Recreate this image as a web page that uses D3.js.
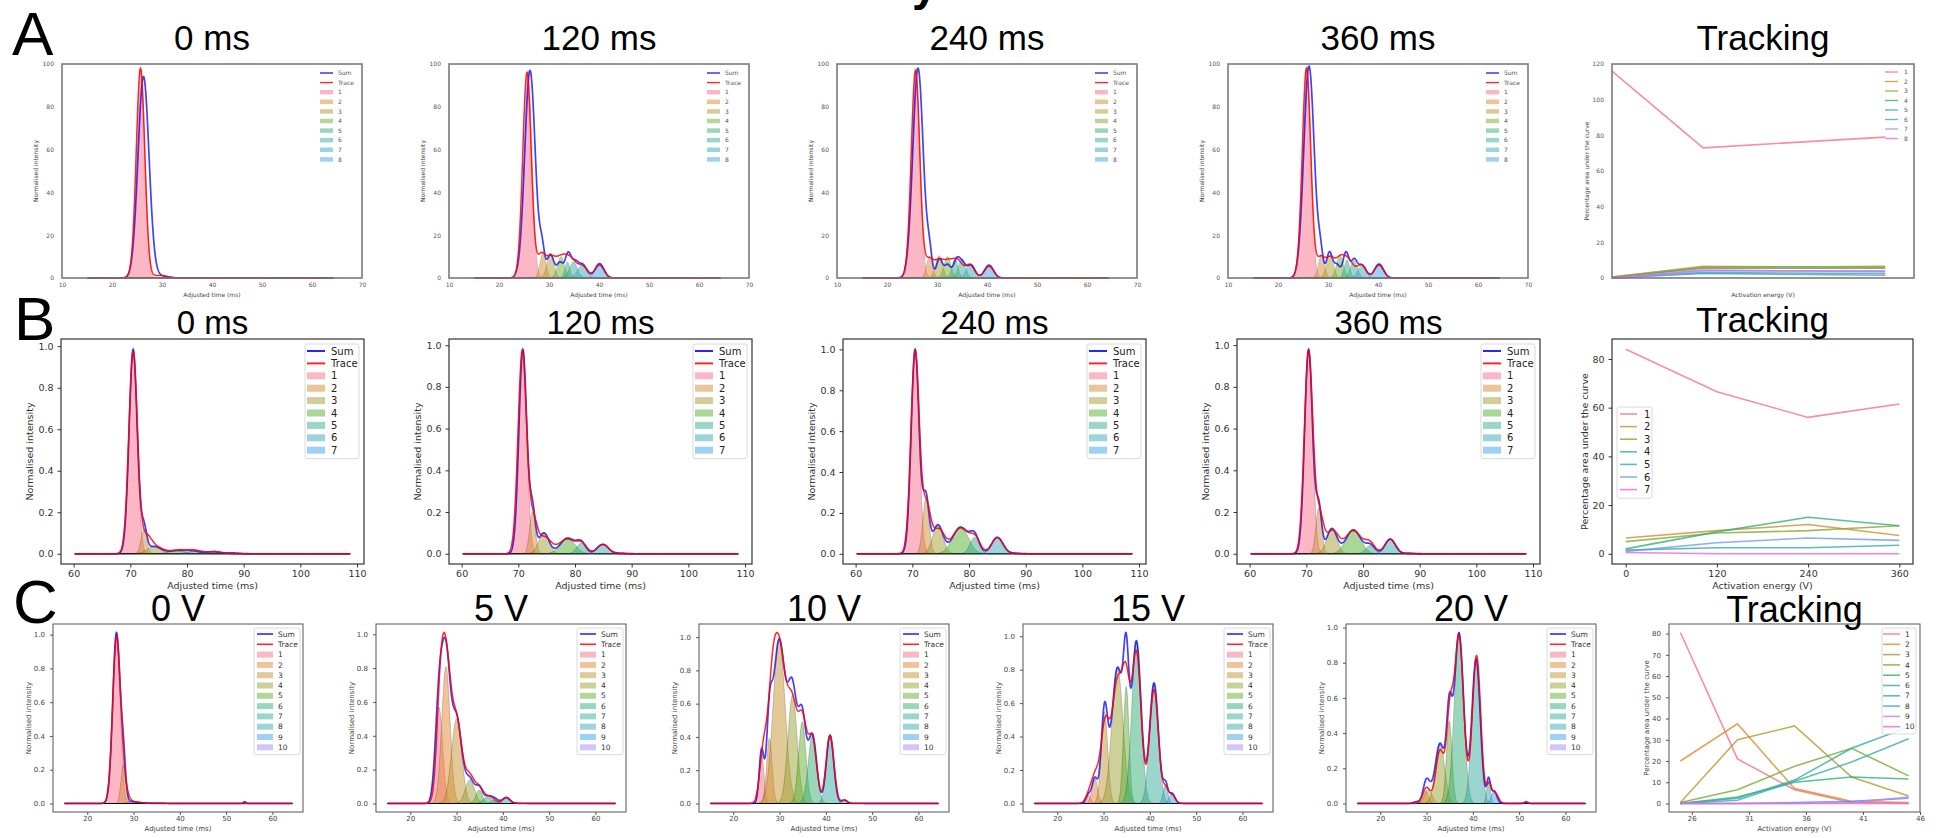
<!DOCTYPE html>
<html><head><meta charset="utf-8">
<script src="https://cdn.jsdelivr.net/npm/d3@7"></script>
<style>body{margin:0;background:#fff}svg{display:block}</style>
</head><body>
<svg id="c" width="1939" height="838"></svg>
<script>
// ---------- DATA (Gaussian components: [centre ms, height, width ms]) ----------
const rowATitles = ["0 ms", "120 ms", "240 ms", "360 ms"];
const rowBTitles = ["0 ms", "120 ms", "240 ms", "360 ms"];
const rowCTitles = ["0 V", "5 V", "10 V", "15 V", "20 V"];

const a0Comps = [[25.8,97,0.8],[28.5,0.3,0.6],[30,0.4,0.8],[32,0.2,0.8],[34,0.1,0.8],[36,0.1,0.8],[38,0.1,0.8],[40,0.1,0.8]];
const a0Sum   = [[26.3,94,1.1],[29.5,1,1.5]];
const a0Trace = [[25.7,98,0.85],[29.5,1.2,1.5]];
const a120Comps = [[25.8,97,0.8],[28.8,11.7,0.6],[30.3,11,0.7],[32.4,10,0.7],[33.7,7.5,0.5],[34.9,7.5,0.8],[36.6,6,0.9],[40.1,6.7,0.9]];
const a120Sum   = [[26.2,97,1.05],[28.6,12,0.5],[30.3,11,0.7],[32.2,7,0.6],[33.8,11,0.6],[35.2,7,0.7],[36.8,6,0.8],[40.1,6.7,0.9]];
const a120Trace = [[25.6,96,0.85],[28.4,10,0.8],[30.3,9,1.0],[32.3,7,1.0],[34.2,9,1.2],[36.8,5,1.0],[40.1,6,0.9]];
const a240Comps = [[25.8,98,0.8],[28.5,10,0.6],[30.4,10.5,0.7],[32.1,10,0.7],[33.6,9,0.6],[35,9,0.7],[36.7,7,0.8],[40.4,6,0.9]];
const a240Sum   = [[26.2,98,1.05],[28.5,10,0.5],[30.5,9,0.6],[32.1,6,0.6],[34,9,0.7],[35.2,5,0.6],[36.8,6,0.8],[40.4,6,0.9]];
const a240Trace = [[25.7,97,0.85],[28.4,8,0.8],[30.4,8,1.0],[32.3,6,0.9],[34.1,8,1.0],[36.6,6,0.9],[40.4,5.5,0.9]];
const a360Comps = [[25.8,99,0.8],[28.7,11,0.6],[30.4,11,0.7],[32.4,10.5,0.7],[33.8,8.5,0.55],[35.2,8,0.7],[36.8,6,0.8],[40.2,6.5,0.9]];
const a360Sum   = [[26.2,99,1.05],[28.5,10,0.5],[30.3,12,0.6],[31.8,6,0.6],[33.6,12,0.6],[35.2,8,0.6],[36.8,6,0.8],[40.2,6.5,0.9]];
const a360Trace = [[25.7,98,0.85],[28.5,9,0.8],[30.4,9,0.9],[32.4,8,0.9],[34.1,8,1.0],[36.7,6,0.9],[40.2,6,0.9]];

const b0Comps = [[70.5,0.985,0.72],[72.4,0.117,0.5],[74.2,0.035,1.2],[78.3,0.015,1.5],[81.1,0.012,1.2],[84.6,0.01,1.2],[88,0.004,1.2]];
const b0Trace = [[70.5,0.97,0.76],[72.8,0.08,0.9],[74.6,0.03,1.2],[78.5,0.018,1.6],[81.5,0.015,1.3],[85,0.01,1.2]];
const b120Comps = [[70.8,0.98,0.7],[72.5,0.2,0.5],[74.5,0.1,0.9],[78.7,0.075,1.3],[81.1,0.05,0.8],[84.9,0.045,1.0],[88,0.003,1]];
const b120Trace = [[70.7,0.97,0.75],[72.6,0.15,0.7],[74.6,0.08,1.2],[78.6,0.07,1.4],[81.2,0.045,0.9],[84.9,0.045,1.0]];
const b240Comps = [[70.5,1.0,0.7],[72.4,0.27,0.55],[74.5,0.14,0.9],[78.5,0.13,1.4],[81,0.08,0.8],[85,0.08,1.0],[88,0.003,1]];
const b240Trace = [[70.5,0.99,0.75],[72.5,0.22,0.7],[74.6,0.12,1.1],[78.5,0.125,1.4],[81.1,0.07,0.9],[85,0.08,1.0]];
const b360Comps = [[70.4,0.98,0.7],[72.2,0.22,0.5],[74.5,0.12,0.9],[78.3,0.115,1.3],[81.3,0.04,0.8],[84.8,0.07,0.9],[88,0.003,1]];
const b360Trace = [[70.4,0.97,0.75],[72.3,0.18,0.7],[74.6,0.11,1.1],[78.3,0.11,1.4],[81.2,0.05,0.9],[84.8,0.07,0.95]];

const c0Comps = [[26.3,1.01,0.8],[27.8,0.23,0.5],[29.5,0.01,0.8],[31,0.004,1],[33,0.002,1],[35,0.002,1],[37,0.001,1],[40,0.001,1],[43,0.001,1],[54,0.01,0.3]];
const c0Trace = [[26.35,0.98,0.85],[28,0.08,0.8],[30,0.01,1.5]];
const c5Comps = [[26.2,0.57,0.8],[27.7,0.81,0.9],[30,0.5,1.1],[32.9,0.14,1.0],[34.9,0.08,0.7],[36.8,0.04,1.0],[38.3,0.02,0.8],[40.7,0.035,0.8],[43,0.001,1],[45,0.001,1]];
const c5Trace = [[26.5,0.55,0.8],[27.8,0.75,0.95],[30,0.48,1.1],[32.8,0.16,1.1],[35,0.08,0.9],[37.2,0.04,1.0],[40.8,0.035,0.8]];
const c10Comps = [[26.1,0.31,0.5],[27.8,0.39,0.6],[29.9,0.98,1.3],[32.8,0.65,1.0],[34.9,0.49,0.8],[37.1,0.41,0.9],[40.9,0.41,0.8],[44,0.02,0.6],[46,0.001,1],[48,0.001,1]];
const c10Trace = [[26.5,0.3,0.8],[28.3,0.45,0.9],[30,0.9,1.3],[32.8,0.55,1.1],[35,0.45,0.9],[37.1,0.38,0.9],[40.9,0.41,0.85],[44,0.02,0.6]];
const c15Comps = [[26.7,0.05,0.5],[28.1,0.15,0.6],[30.2,0.55,0.7],[33,0.81,1.2],[34.9,0.7,0.6],[37.1,0.97,1.0],[40.9,0.72,0.95],[43.4,0.11,0.5],[44.8,0.06,0.6],[47,0.001,1]];
const c15Trace = [[27,0.06,0.8],[28.3,0.15,0.8],[30.3,0.45,0.9],[33,0.72,1.2],[34.9,0.55,0.8],[37.1,0.9,1.0],[40.9,0.68,0.95],[43.4,0.08,0.6],[44.8,0.05,0.7]];
const c20Comps = [[28,0.01,0.8],[29.8,0.07,0.6],[30.4,0.08,0.8],[32.9,0.34,1.0],[34.9,0.47,0.6],[37,0.97,1.0],[40.7,0.82,0.9],[43.4,0.13,0.4],[44.6,0.07,0.6],[51.5,0.005,0.4]];
const c20Trace = [[30,0.09,0.8],[32.9,0.3,0.9],[35,0.45,0.7],[37,0.95,1.0],[40.8,0.84,0.9],[43.5,0.1,0.5],[44.8,0.06,0.7],[51.5,0.01,0.4]];

const trackATimes = [0, 120, 360];
const trackAValues = [[116,73,79],[0.5,6.5,6],[0.5,6,6.5],[0.3,5.5,5.5],[0.2,3,2.5],[0,2.5,1.5],[0,4,4],[0,4.5,3.5]];
const trackBTimes = [0, 120, 240, 360];
const trackBValues = [[84,66.5,56,61.5],[6.5,9.5,12,7.5],[5,8.5,9.5,11.5],[2,9,15,11.5],[1.5,2.5,2.5,3.5],[1,4.5,6.5,5.5],[0.5,0,0,0]];
const trackCVolts = [25, 30, 35, 40, 45];
const trackCValues = [[80.5,21,6.5,0.5,0],[20,37.5,7,1,0.5],[0.5,30,36.5,12.5,3.5],[0.5,6.5,17.5,26,13],[0,3,10,12.5,11.5],[0,2.5,11,26,36],[0,1.5,10.5,19.5,30.5],[0,0,0.5,1,2.5],[0,0,0,0.5,3],[0,0,0,0,0]];

const aTicksX = [10,20,30,40,50,60,70], aTicksY = [0,20,40,60,80,100];
const bTicksX = [60,70,80,90,100,110], bTicksY = [0,0.2,0.4,0.6,0.8,1.0];
const cTicksX = [20,30,40,50,60], cTicksY = [0,0.2,0.4,0.6,0.8,1.0];
const trackATicksY = [0,20,40,60,80,100,120];
const trackBTicksX = [0,120,240,360], trackBTicksY = [0,20,40,60,80];
const trackCTicksX = [26,31,36,41,46], trackCTicksY = [0,10,20,30,40,50,60,70,80];

const husl10 = ['#f77189','#dc8932','#ae9d31','#77ab31','#33b07a','#35ad9c','#37abb5','#3ba3ec','#bb83f4','#f564d4'];
const husl8  = ['#f77189','#ce9032','#97a431','#32b166','#36ada4','#39a7d0','#a48cf4','#f561dd'];
const palB   = ['#f77189','#d58c32','#a4a031','#50b131','#34ae91','#38aab7','#3ba3ec'];
const palC   = ['#f77189','#e58632','#c39532','#9ca231','#62ad31','#33b07a','#35ad9c','#37abb5','#3ba3ec','#a48cf4'];
const palTrackB = ['#f77189','#c8922f','#8fa62f','#33b07a','#36ada4','#6e9bf4','#f461dd'];

// ---------- DRAWING ----------
const svg = d3.select('#c');
const SANS = 'DejaVu Sans, sans-serif';
const ARIAL = 'Liberation Sans, Arial, sans-serif';
const mix = (list, x) => d3.sum(list, ([m,h,s]) => h*Math.exp(-((x-m)*(x-m))/(2*s*s)));

const styles = {
  A:{tick:6, tickColor:'#555', frame:'#7a7a7a', frameW:1.6, tickLen:0, padX:5, padY:8, label:6, labelColor:'#444', yLabOff:24, xLabY:19, leg:6, legColor:'#555'},
  B:{tick:9.5, tickColor:'#333', frame:'#333', frameW:1.2, tickLen:3.5, padX:2.5, padY:4, label:9.5, labelColor:'#333', yLabOff:28, xLabY:25, leg:10, legColor:'#222'},
  C:{tick:7, tickColor:'#444', frame:'#555', frameW:1, tickLen:3, padX:1.5, padY:5, label:7, labelColor:'#444', yLabOff:22, xLabY:18.5, leg:7.5, legColor:'#333'}
};

function axes(g, x, y, box, st, xt, yt, xf, yf, showX) {
  const [l, r, t, b] = box;
  if (showX) {
    const xa = g.append('g').attr('transform', `translate(0,${b})`)
      .call(d3.axisBottom(x).tickValues(xt).tickFormat(xf).tickSize(st.tickLen).tickPadding(st.padX));
    xa.select('.domain').remove();
    xa.selectAll('line').attr('stroke', st.frame);
    xa.selectAll('text').attr('font-family', SANS).attr('font-size', st.tick).attr('fill', st.tickColor);
  }
  const ya = g.append('g').attr('transform', `translate(${l},0)`)
    .call(d3.axisLeft(y).tickValues(yt).tickFormat(yf).tickSize(st.tickLen).tickPadding(st.padY));
  ya.select('.domain').remove();
  ya.selectAll('line').attr('stroke', st.frame);
  ya.selectAll('text').attr('font-family', SANS).attr('font-size', st.tick).attr('fill', st.tickColor);
  g.append('rect').attr('x', l).attr('y', t).attr('width', r-l).attr('height', b-t)
    .attr('fill', 'none').attr('stroke', st.frame).attr('stroke-width', st.frameW);
}

function labels(g, box, st, xl, yl, yOff) {
  const [l, r, t, b] = box;
  g.append('text').attr('x', (l+r)/2).attr('y', b + st.xLabY).attr('text-anchor','middle')
    .attr('font-family', SANS).attr('font-size', st.label).attr('fill', st.labelColor).text(xl);
  g.append('text').attr('transform', `translate(${l - (yOff||st.yLabOff)},${(t+b)/2}) rotate(-90)`)
    .attr('text-anchor','middle').attr('font-family', SANS).attr('font-size', st.label).attr('fill', st.labelColor).text(yl);
}

function title(g, box, txt, base, size) {
  g.append('text').attr('x', (box[0]+box[1])/2).attr('y', base).attr('text-anchor','middle')
    .attr('font-family', ARIAL).attr('font-size', size).attr('fill', '#000').text(txt);
}

function legend(g, items, spec, st) {
  if (spec.frame) {
    g.append('rect').attr('x', spec.fx).attr('y', spec.fy).attr('width', spec.fw)
      .attr('height', items.length*spec.step + 3).attr('rx', 2)
      .attr('fill', '#fff').attr('fill-opacity', 0.85).attr('stroke', '#d0d0d0').attr('stroke-width', 0.8);
  }
  items.forEach((it, i) => {
    const yy = spec.y0 + i*spec.step;
    if (it.type === 'line') {
      g.append('line').attr('x1', spec.lx).attr('x2', spec.lx+spec.lw).attr('y1', yy).attr('y2', yy)
        .attr('stroke', it.c).attr('stroke-width', spec.lineW||1.6).attr('stroke-opacity', it.op||0.85);
    } else {
      g.append('rect').attr('x', spec.lx).attr('y', yy - spec.ph/2).attr('width', spec.lw).attr('height', spec.ph)
        .attr('fill', it.c).attr('fill-opacity', 0.5);
    }
    g.append('text').attr('x', spec.tx).attr('y', yy).attr('dy', '0.35em')
      .attr('font-family', SANS).attr('font-size', st.leg).attr('fill', st.legColor).text(it.t);
  });
}

function drawFit(p) {
  const st = styles[p.row];
  const g = svg.append('g');
  const [l, r, t, b] = p.box;
  const x = d3.scaleLinear().domain(p.xDomain).range([l, r]);
  const xs = d3.range(p.xRange[0], p.xRange[1] + 1e-9, 0.05);
  const sumList = p.sum || p.comps;
  const sumVals = xs.map(v => mix(sumList, v));
  const trVals = xs.map(v => mix(p.trace, v));
  let yDom = p.yDomain;
  if (!yDom) { const mx = d3.max(sumVals.concat(trVals)); yDom = [-0.05*mx, 1.05*mx]; }
  const y = d3.scaleLinear().domain(yDom).range([b, t]);
  p.comps.forEach((c, i) => {
    const area = d3.area().x(d => x(d)).y0(y(0)).y1(d => y(mix([c], d)));
    g.append('path').datum(xs).attr('d', area).attr('fill', p.palette[i]).attr('fill-opacity', 0.5)
      .attr('stroke', '#000').attr('stroke-opacity', p.row === 'A' ? 0.2 : 0.3).attr('stroke-width', 0.6);
  });
  const line = d3.line().x((d, i) => x(xs[i])).y(d => y(d));
  g.append('path').datum(sumVals).attr('d', line).attr('fill', 'none').attr('stroke', '#0000ff').attr('stroke-opacity', 0.75).attr('stroke-width', 1.7);
  g.append('path').datum(trVals).attr('d', line).attr('fill', 'none').attr('stroke', '#ff0000').attr('stroke-opacity', 0.85).attr('stroke-width', 1.5);
  axes(g, x, y, p.box, st, p.xTicks, p.yTicks, d3.format('d'), p.yFmt, true);
  labels(g, p.box, st, 'Adjusted time (ms)', 'Normalised intensity');
  title(g, p.box, p.title, p.titleY, p.titleSize);
  const items = [{t:'Sum', type:'line', c:'#0000ff'}, {t:'Trace', type:'line', c:'#ff0000'}]
    .concat(p.comps.map((c, i) => ({t: String(i+1), type: 'patch', c: p.palette[i]})));
  let spec;
  if (p.row === 'A') spec = {frame:false, lx:r-42, lw:13, tx:r-24, y0:t+9, step:9.6, ph:4.5, lineW:1.4};
  else if (p.row === 'B') { const fx = r-5-54, fy = t+5; spec = {frame:true, fx, fy, fw:54, lx:fx+2, lw:18, tx:fx+26, y0:fy+7, step:12.4, ph:7, lineW:2}; }
  else { const fx = r-3-46, fy = t+4; spec = {frame:true, fx, fy, fw:46, lx:fx+3, lw:16, tx:fx+24, y0:fy+6, step:10.3, ph:6, lineW:1.6}; }
  legend(g, items, spec, st);
}

function drawTrack(p) {
  const st = styles[p.row];
  const g = svg.append('g');
  const [l, r, t, b] = p.box;
  const x = d3.scaleLinear().domain(p.xDomain).range([l, r]);
  const y = d3.scaleLinear().domain(p.yDomain).range([b, t]);
  const line = d3.line().x((d, i) => x(p.xs[i])).y(d => y(d));
  p.values.forEach((s, i) => {
    g.append('path').datum(s).attr('d', line).attr('fill', 'none').attr('stroke', p.palette[i])
      .attr('stroke-opacity', 0.8).attr('stroke-width', 1.6);
  });
  axes(g, x, y, p.box, st, p.xTicks || [], p.yTicks, d3.format('d'), d3.format('d'), !!p.xTicks);
  labels(g, p.box, st, 'Activation energy (V)', 'Percentage area under the curve', p.yLabOff);
  title(g, p.box, 'Tracking', p.titleY, p.titleSize);
  const items = p.values.map((s, i) => ({t: String(i+1), type: 'line', c: p.palette[i], op: 0.8}));
  legend(g, items, p.legend, st);
}

// Row A
const rowAComps = [a0Comps, a120Comps, a240Comps, a360Comps];
const rowASums = [a0Sum, a120Sum, a240Sum, a360Sum];
const rowATraces = [a0Trace, a120Trace, a240Trace, a360Trace];
const rowALefts = [62, 449, 837, 1228];
rowALefts.forEach((lft, i) => drawFit({row:'A', box:[lft, lft+300, 64, 278], xDomain:[10,70], yDomain:[0,100], xRange:[15.1,64.3],
  comps:rowAComps[i], sum:rowASums[i], trace:rowATraces[i], palette:husl10, xTicks:aTicksX, yTicks:aTicksY, yFmt:d3.format('d'),
  title:rowATitles[i], titleY:50, titleSize:35}));
drawTrack({row:'A', box:[1612,1914,64,278], xDomain:[0,398], yDomain:[0,120], xs:trackATimes, values:trackAValues, palette:husl8,
  yTicks:trackATicksY, titleY:50, titleSize:35, yLabOff:23,
  legend:{frame:false, lx:1885, lw:13, tx:1904, y0:72, step:9.5, lineW:1.4}});

// Row B
const rowBComps = [b0Comps, b120Comps, b240Comps, b360Comps];
const rowBTraces = [b0Trace, b120Trace, b240Trace, b360Trace];
const rowBLefts = [61, 449, 843, 1237];
rowBLefts.forEach((lft, i) => drawFit({row:'B', box:[lft, lft+303, 339, 564], xDomain:[57.77,111.23], xRange:[60.2,108.8],
  comps:rowBComps[i], trace:rowBTraces[i], palette:palB, xTicks:bTicksX, yTicks:bTicksY, yFmt:d3.format('.1f'),
  title:rowBTitles[i], titleY:334, titleSize:33}));
drawTrack({row:'B', box:[1612,1913,339,564], xDomain:[-18,378], yDomain:[-4.2,88.2], xs:trackBTimes, values:trackBValues, palette:palTrackB,
  xTicks:trackBTicksX, yTicks:trackBTicksY, titleY:332, titleSize:35, yLabOff:24,
  legend:{frame:true, fx:1617, fy:407, fw:35, lx:1620, lw:17, tx:1644, y0:414, step:12.6, lineW:1.6}});

// Row C
const rowCComps = [c0Comps, c5Comps, c10Comps, c15Comps, c20Comps];
const rowCTraces = [c0Trace, c5Trace, c10Trace, c15Trace, c20Trace];
const rowCLefts = [53, 376, 699, 1023, 1346];
rowCLefts.forEach((lft, i) => drawFit({row:'C', box:[lft, lft+250, 624, 812], xDomain:[12.6,66.6], xRange:[15.1,64.3],
  comps:rowCComps[i], trace:rowCTraces[i], palette:palC, xTicks:cTicksX, yTicks:cTicksY, yFmt:d3.format('.1f'),
  title:rowCTitles[i], titleY:621, titleSize:36}));
drawTrack({row:'C', box:[1669,1920,624,812], xDomain:[24,46], yDomain:[-4.0,84.5], xs:trackCVolts, values:trackCValues, palette:husl10,
  xTicks:trackCTicksX, yTicks:trackCTicksY, titleY:622, titleSize:36, yLabOff:20,
  legend:{frame:true, fx:1882, fy:628, fw:34, lx:1883, lw:17, tx:1905, y0:634, step:10.3, lineW:1.6}});

// Panel letters and the clipped super-title descender
[['A',12,55],['B',14,340],['C',13,623]].forEach(([t,x,yb]) =>
  svg.append('text').attr('x', x).attr('y', yb).attr('font-family', ARIAL).attr('font-size', 62).attr('fill', '#000').text(t));
svg.append('text').attr('x', 912).attr('y', 0).attr('font-family', ARIAL).attr('font-weight', 'bold')
  .attr('font-size', 46).attr('fill', '#000').text('y');
</script>
</body></html>
